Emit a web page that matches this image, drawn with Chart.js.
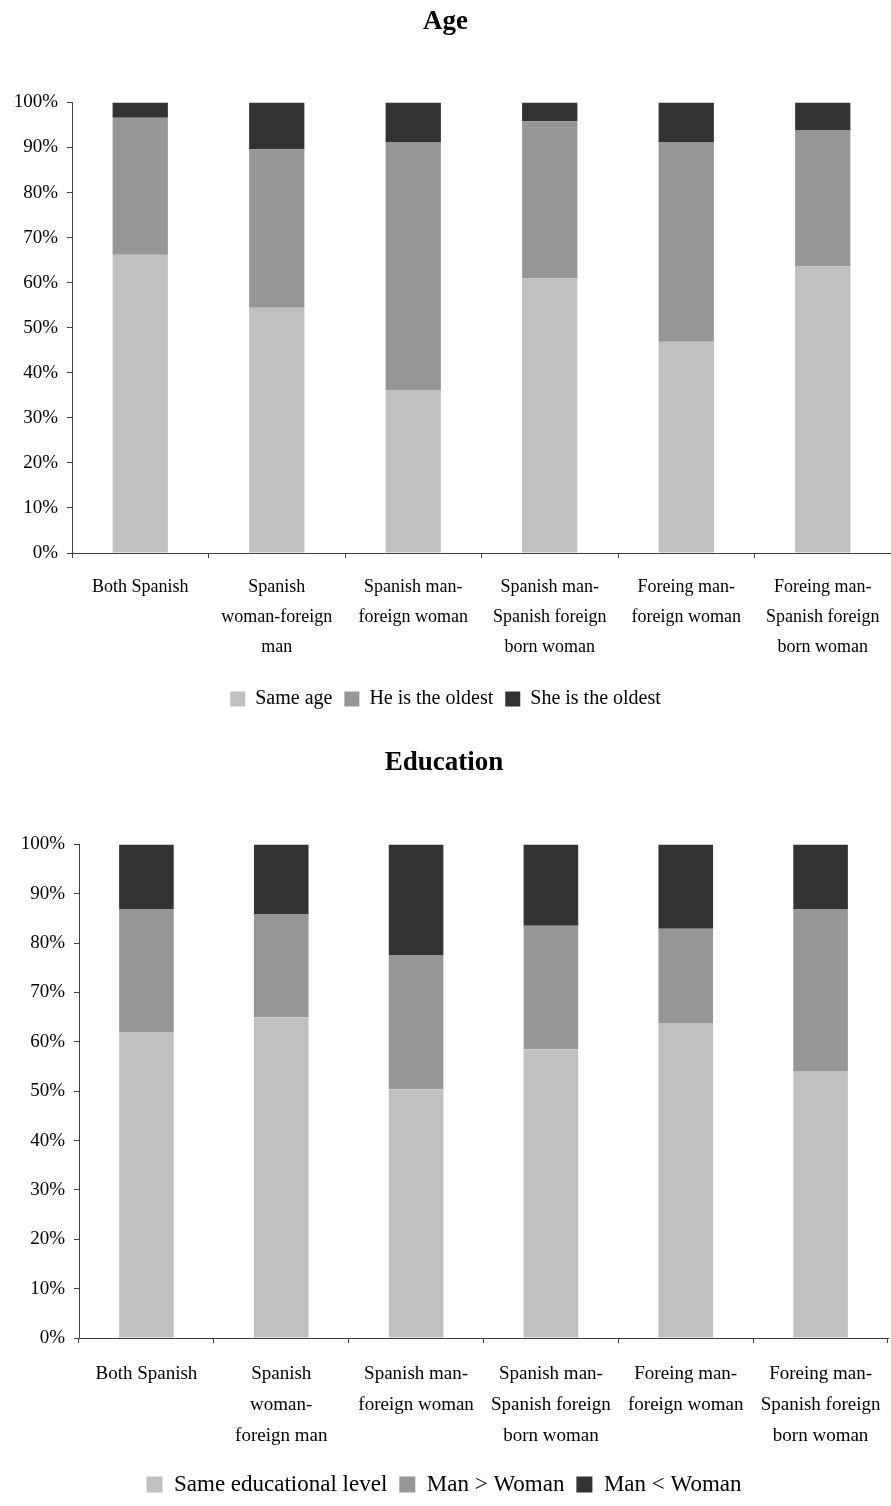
<!DOCTYPE html>
<html>
<head>
<meta charset="utf-8">
<script src="https://cdn.jsdelivr.net/npm/chart.js@4/dist/chart.umd.min.js"></script>
<style>
  body { margin: 0; background: #fff; }
  .box { position: relative; width: 891px; }
</style>
</head>
<body>
<div class="box" style="height:730px"><canvas id="age-chart"></canvas></div>
<div class="box" style="height:776px"><canvas id="edu-chart"></canvas></div>
<script>
// categories (multi-line as in the original)
const ageLabels = [
  'Both Spanish',
  ['Spanish', 'woman-foreign', 'man'],
  ['Spanish man-', 'foreign woman'],
  ['Spanish man-', 'Spanish foreign', 'born woman'],
  ['Foreing man-', 'foreign woman'],
  ['Foreing man-', 'Spanish foreign', 'born woman'],
];
const eduLabels = [
  'Both Spanish',
  ['Spanish', 'woman-', 'foreign man'],
  ['Spanish man-', 'foreign woman'],
  ['Spanish man-', 'Spanish foreign', 'born woman'],
  ['Foreing man-', 'foreign woman'],
  ['Foreing man-', 'Spanish foreign', 'born woman'],
];

// Age (%)
const sameAge = [66.2, 54.4, 36.2, 60.9, 46.9, 63.6];
const heOldest = [30.4, 35.2, 55.0, 34.9, 44.3, 30.3];
const sheOldest = [3.4, 10.4, 8.8, 4.2, 8.8, 6.1];

// Education (%)
const sameEdu = [62.0, 65.0, 50.4, 58.5, 63.8, 54.1];
const manMore = [24.8, 20.8, 27.2, 25.0, 19.1, 32.7];
const manLess = [13.2, 14.2, 22.4, 16.5, 17.1, 13.2];

const C_SAME = '#c0c0c0', C_MID = '#969696', C_DARK = '#333333';
const SERIF = "'Liberation Serif', 'Times New Roman', serif";

Chart.defaults.color = '#000';
Chart.defaults.font.family = SERIF;

function makeChart(id, title, labels, series, o) {
  return new Chart(document.getElementById(id), {
    type: 'bar',
    data: {
      labels,
      datasets: series.map(s => ({
        label: s.name, data: s.data, backgroundColor: s.color,
        borderWidth: 0, barPercentage: 0.405, categoryPercentage: 1,
      })),
    },
    options: {
      responsive: true, maintainAspectRatio: false, animation: false,
      layout: { padding: { left: 0, right: o.right, top: 0, bottom: o.bottom } },
      plugins: {
        title: {
          display: true, text: title, color: '#000',
          font: { family: SERIF, size: 27, weight: 'bold' },
          padding: { top: o.titleTop, bottom: o.titleBottom },
        },
        legend: {
          position: 'bottom',
          labels: {
            boxWidth: o.box, boxHeight: o.box, padding: 12,
            font: { family: SERIF, size: o.legendSize }, color: '#000',
          },
        },
        tooltip: { enabled: false },
      },
      scales: {
        x: {
          stacked: true,
          // fixed height, no extra side padding for the outer labels
          afterFit: s => { s.height = o.xHeight; s.paddingLeft = 0; s.paddingRight = 0; },
          grid: { offset: true, drawOnChartArea: false, drawTicks: true, tickLength: 5, color: '#404040' },
          border: { display: true, color: '#404040', width: 1 },
          ticks: {
            autoSkip: false, maxRotation: 0, padding: o.xPad,
            font: { family: SERIF, size: o.tickSize, lineHeight: o.lineH / o.tickSize }, color: '#000',
          },
        },
        y: {
          stacked: true, min: 0, max: 100,
          afterFit: s => { s.width = o.yWidth; },
          grid: { drawOnChartArea: false, drawTicks: true, tickLength: 5, color: '#404040' },
          border: { display: true, color: '#404040', width: 1 },
          ticks: {
            stepSize: 10, padding: 9, callback: v => v + '%',
            font: { family: SERIF, size: 19 }, color: '#000',
          },
        },
      },
    },
  });
}

makeChart('age-chart', 'Age', ageLabels, [
  { name: 'Same age', data: sameAge, color: C_SAME },
  { name: 'He is the oldest', data: heOldest, color: C_MID },
  { name: 'She is the oldest', data: sheOldest, color: C_DARK },
], { right: 0, bottom: 11, titleTop: 6, titleBottom: 64, box: 15, legendSize: 20,
     xHeight: 124, xPad: 14, tickSize: 18, lineH: 30, yWidth: 72 });

makeChart('edu-chart', 'Education', eduLabels, [
  { name: 'Same educational level', data: sameEdu, color: C_SAME },
  { name: 'Man > Woman', data: manMore, color: C_MID },
  { name: 'Man < Woman', data: manLess, color: C_DARK },
], { right: 3, bottom: 0, titleTop: 17, titleBottom: 65, box: 16, legendSize: 23,
     xHeight: 123, xPad: 16, tickSize: 19, lineH: 31, yWidth: 79 });
</script>
</body>
</html>
